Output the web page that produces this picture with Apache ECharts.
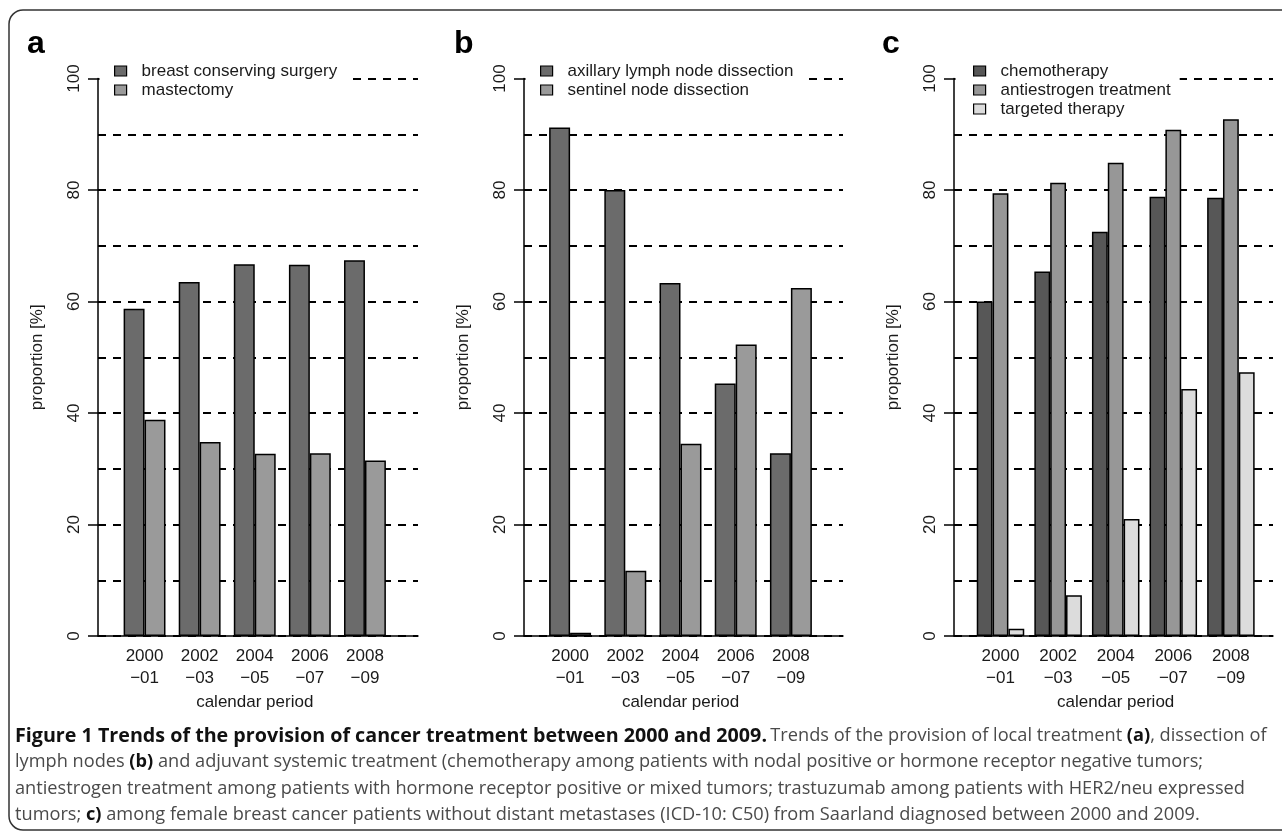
<!DOCTYPE html>
<html>
<head>
<meta charset="utf-8">
<script src="https://cdn.jsdelivr.net/npm/echarts@6/dist/echarts.min.js"></script>
<style>
  html, body { margin: 0; padding: 0; background: #fff; }
  #main { width: 1282px; height: 834px; }
</style>
</head>
<body>
<div id="main"></div>
<script>
// periods on the x axis
var periods = ['2000\n\u221201', '2002\n\u221203', '2004\n\u221205', '2006\n\u221207', '2008\n\u221209'];

// panel a: local treatment
var bcsSurgery = [58.7, 63.5, 66.7, 66.6, 67.4];
var mastectomy = [38.8, 34.8, 32.7, 32.8, 31.5];

// panel b: dissection of lymph nodes
var axillaryDissection = [91.2, 80.0, 63.3, 45.3, 32.8];
var sentinelDissection = [0.6, 11.7, 34.5, 52.3, 62.4];

// panel c: adjuvant systemic treatment
var chemotherapy = [60.0, 65.4, 72.5, 78.8, 78.6];
var antiestrogen = [79.4, 81.3, 84.9, 90.8, 92.7];
var targeted = [1.3, 7.3, 21.0, 44.3, 47.3];

var captionLines = [
    '{t|Figure 1 Trends of the provision of cancer treatment between 2000 and 2009.} {n|Trends of the provision of local treatment }{b|(a)}{n|, dissection of}',
    '{n|lymph nodes }{b|(b)}{n| and adjuvant systemic treatment (chemotherapy among patients with nodal positive or hormone receptor negative tumors;}',
    '{n|antiestrogen treatment among patients with hormone receptor positive or mixed tumors; trastuzumab among patients with HER2/neu expressed}',
    '{n|tumors; }{b|c)}{n| among female breast cancer patients without distant metastases (ICD-10: C50) from Saarland diagnosed between 2000 and 2009.}'
];

var FONT = 'Liberation Sans, Arial, sans-serif';
var top100 = 78.5, base0 = 636;

// axis frame (x from/to) and bar area (left/width) per panel
var panels = [
    { label: 'a', labelX: 27, axisL: 98, axisR: 418, barL: 117, barW: 275.5, gap: '24%',
      legendPad: [2, 9, 2, 14.5],
      series: [
          { name: 'breast conserving surgery', data: bcsSurgery, color: '#6b6b6b' },
          { name: 'mastectomy', data: mastectomy, color: '#9a9a9a' }
      ] },
    { label: 'b', labelX: 454, axisL: 524, axisR: 843, barL: 542.5, barW: 276, gap: '24%',
      legendPad: [2, 9, 2, 14.5],
      series: [
          { name: 'axillary lymph node dissection', data: axillaryDissection, color: '#6b6b6b' },
          { name: 'sentinel node dissection', data: sentinelDissection, color: '#9a9a9a' }
      ] },
    { label: 'c', labelX: 882, axisL: 954, axisR: 1273, barL: 971.7, barW: 288, gap: '17.5%',
      legendPad: [2, 9, 2, 17.5],
      series: [
          { name: 'chemotherapy', data: chemotherapy, color: '#575757' },
          { name: 'antiestrogen treatment', data: antiestrogen, color: '#979797' },
          { name: 'targeted therapy', data: targeted, color: '#dcdcdc' }
      ] }
];

var grid = [], xAxis = [], yAxis = [], series = [], legend = [], graphic = [];

panels.forEach(function (p, i) {
    var bg = i * 2, br = i * 2 + 1;
    // frame grid: axis line, ticks, dashed reference lines
    grid.push({ left: p.axisL, width: p.axisR - p.axisL, top: top100, height: base0 - top100 });
    // bar grid
    grid.push({ left: p.barL, width: p.barW, top: top100, height: base0 - top100 });

    xAxis.push({
        gridIndex: bg, type: 'value', min: 0, max: 1,
        axisLine: { show: true, lineStyle: { color: '#000', width: 1.5 } },
        axisTick: { show: false }, axisLabel: { show: false }, splitLine: { show: false }
    });
    xAxis.push({
        gridIndex: br, type: 'category', data: periods,
        axisLine: { show: false }, axisTick: { show: false },
        axisLabel: { margin: 9, fontSize: 17, lineHeight: 22, color: '#1a1a1a', fontFamily: FONT },
        name: 'calendar period', nameLocation: 'middle', nameGap: 58,
        nameTextStyle: { fontSize: 17, color: '#1a1a1a', fontFamily: FONT }
    });

    yAxis.push({
        gridIndex: bg, type: 'value', min: 0, max: 100, interval: 20,
        axisLine: { show: true, lineStyle: { color: '#000', width: 1.5 } },
        axisTick: { show: true, length: 10, lineStyle: { color: '#000', width: 1.5 } },
        axisLabel: { rotate: 90, margin: 15, fontSize: 17, color: '#1a1a1a', fontFamily: FONT },
        splitLine: { show: true, lineStyle: { color: '#000', width: 2, type: [8, 7] } },
        minorTick: { show: false, splitNumber: 2 },
        minorSplitLine: { show: true, lineStyle: { color: '#000', width: 2, type: [8, 7] } },
        name: 'proportion [%]', nameLocation: 'middle', nameGap: 52, nameRotate: 90,
        nameTextStyle: { fontSize: 17, color: '#1a1a1a', fontFamily: FONT }
    });
    yAxis.push({
        gridIndex: br, type: 'value', min: 0, max: 100, show: false
    });

    p.series.forEach(function (s) {
        series.push({
            name: s.name, type: 'bar', xAxisIndex: br, yAxisIndex: br,
            data: s.data, barGap: '0%', barCategoryGap: p.gap,
            itemStyle: { color: s.color, borderColor: '#000', borderWidth: 1.5 },
            z: 3
        });
    });

    // white box keeps the top dashed line away from the legend, but not over the axis line
    legend.push({
        orient: 'vertical', left: p.axisL + 1.5, top: 60.5,
        padding: p.legendPad, itemGap: 2,
        itemWidth: 12, itemHeight: 10, icon: 'rect',
        backgroundColor: '#fff',
        selectedMode: false,
        itemStyle: { borderColor: '#000', borderWidth: 1.2 },
        textStyle: { fontSize: 17, lineHeight: 17, color: '#1a1a1a', fontFamily: FONT, padding: [0, 0, 0, 10] },
        data: p.series.map(function (s) { return s.name; })
    });

    graphic.push({
        type: 'text', left: p.labelX, top: 28,
        style: { text: p.label, font: 'bold 32px ' + FONT, fill: '#000' }
    });
});

// rounded frame round the figure
graphic.push({
    type: 'rect', shape: { x: 9, y: 10, width: 1290, height: 820, r: 14 },
    style: { fill: null, stroke: '#333', lineWidth: 1.5 }, z: -1
});

captionLines.forEach(function (line, k) {
    graphic.push({
        type: 'text', x: 15, y: 736 + k * 26.2,
        style: {
            text: line, verticalAlign: 'middle',
            rich: {
                t: { fontFamily: 'Open Sans', fontWeight: 'bold', fontSize: 19.7, fill: '#111' },
                n: { fontFamily: 'Open Sans', fontSize: 18.2, fill: '#4a4a4a' },
                b: { fontFamily: 'Open Sans', fontWeight: 'bold', fontSize: 18.2, fill: '#111' }
            }
        }
    });
});

var chart = echarts.init(document.getElementById('main'));
chart.setOption({
    animation: false,
    grid: grid,
    xAxis: xAxis,
    yAxis: yAxis,
    legend: legend,
    series: series,
    graphic: graphic
});
</script>
</body>
</html>
